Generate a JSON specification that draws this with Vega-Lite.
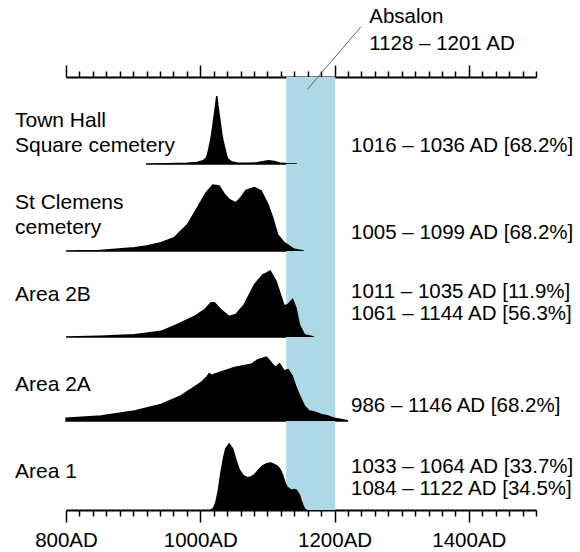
{
  "$schema": "https://vega.github.io/schema/vega-lite/v6.json",
  "padding": {"left": 14, "top": 7, "right": 0, "bottom": 0},
  "background": "white",
  "bounds": "flush",
  "spacing": 0,
  "config": {
    "view": {"stroke": null},
    "font": "Liberation Sans",
    "axis": {"grid": false, "domainColor": "black", "tickColor": "black", "labelColor": "black", "labelFont": "Liberation Sans", "labelFontSize": 20.5, "domainWidth": 2, "tickWidth": 1.5}
  },
  "datasets": {
    "event": [{"name": "Absalon", "start": 1128, "end": 1201, "label": "Absalon\n1128 – 1201 AD"}],
    "groups": [
      {"group": "Town Hall Square cemetery", "label": "Town Hall\nSquare cemetery", "range": "1016 – 1036 AD [68.2%]"},
      {"group": "St Clemens cemetery", "label": "St Clemens\ncemetery", "range": "1005 – 1099 AD [68.2%]"},
      {"group": "Area 2B", "label": "Area 2B", "range": "1011 – 1035 AD [11.9%]\n1061 – 1144 AD [56.3%]"},
      {"group": "Area 2A", "label": "Area 2A", "range": "986 – 1146 AD [68.2%]"},
      {"group": "Area 1", "label": "Area 1", "range": "1033 – 1064 AD [33.7%]\n1084 – 1122 AD [34.5%]"}
    ],
    "density": [
      {"group": "Town Hall Square cemetery", "year": 919, "p": 0},
      {"group": "Town Hall Square cemetery", "year": 950, "p": 0.005},
      {"group": "Town Hall Square cemetery", "year": 980, "p": 0.012},
      {"group": "Town Hall Square cemetery", "year": 995, "p": 0.023},
      {"group": "Town Hall Square cemetery", "year": 1003, "p": 0.045},
      {"group": "Town Hall Square cemetery", "year": 1008, "p": 0.076},
      {"group": "Town Hall Square cemetery", "year": 1010.5, "p": 0.13},
      {"group": "Town Hall Square cemetery", "year": 1013, "p": 0.24},
      {"group": "Town Hall Square cemetery", "year": 1015, "p": 0.34},
      {"group": "Town Hall Square cemetery", "year": 1017, "p": 0.45},
      {"group": "Town Hall Square cemetery", "year": 1019, "p": 0.6},
      {"group": "Town Hall Square cemetery", "year": 1021, "p": 0.75},
      {"group": "Town Hall Square cemetery", "year": 1023, "p": 0.9},
      {"group": "Town Hall Square cemetery", "year": 1024.5, "p": 1.03},
      {"group": "Town Hall Square cemetery", "year": 1026, "p": 0.9},
      {"group": "Town Hall Square cemetery", "year": 1028, "p": 0.75},
      {"group": "Town Hall Square cemetery", "year": 1030, "p": 0.6},
      {"group": "Town Hall Square cemetery", "year": 1032, "p": 0.45},
      {"group": "Town Hall Square cemetery", "year": 1034, "p": 0.34},
      {"group": "Town Hall Square cemetery", "year": 1036.5, "p": 0.24},
      {"group": "Town Hall Square cemetery", "year": 1039, "p": 0.13},
      {"group": "Town Hall Square cemetery", "year": 1041, "p": 0.076},
      {"group": "Town Hall Square cemetery", "year": 1047, "p": 0.03},
      {"group": "Town Hall Square cemetery", "year": 1055, "p": 0.015},
      {"group": "Town Hall Square cemetery", "year": 1070, "p": 0.01},
      {"group": "Town Hall Square cemetery", "year": 1085, "p": 0.018},
      {"group": "Town Hall Square cemetery", "year": 1095, "p": 0.038},
      {"group": "Town Hall Square cemetery", "year": 1102, "p": 0.05},
      {"group": "Town Hall Square cemetery", "year": 1110, "p": 0.038},
      {"group": "Town Hall Square cemetery", "year": 1118, "p": 0.015},
      {"group": "Town Hall Square cemetery", "year": 1130, "p": 0.005},
      {"group": "Town Hall Square cemetery", "year": 1144, "p": 0},

      {"group": "St Clemens cemetery", "year": 800, "p": 0},
      {"group": "St Clemens cemetery", "year": 850, "p": 0.006},
      {"group": "St Clemens cemetery", "year": 902, "p": 0.05},
      {"group": "St Clemens cemetery", "year": 920, "p": 0.076},
      {"group": "St Clemens cemetery", "year": 941.5, "p": 0.126},
      {"group": "St Clemens cemetery", "year": 961, "p": 0.2},
      {"group": "St Clemens cemetery", "year": 981, "p": 0.4},
      {"group": "St Clemens cemetery", "year": 996, "p": 0.66},
      {"group": "St Clemens cemetery", "year": 1008.5, "p": 0.88},
      {"group": "St Clemens cemetery", "year": 1018.5, "p": 1.0},
      {"group": "St Clemens cemetery", "year": 1028, "p": 0.985},
      {"group": "St Clemens cemetery", "year": 1036, "p": 0.86},
      {"group": "St Clemens cemetery", "year": 1043, "p": 0.78},
      {"group": "St Clemens cemetery", "year": 1053, "p": 0.73},
      {"group": "St Clemens cemetery", "year": 1060.5, "p": 0.81},
      {"group": "St Clemens cemetery", "year": 1068, "p": 0.92},
      {"group": "St Clemens cemetery", "year": 1080.5, "p": 0.96},
      {"group": "St Clemens cemetery", "year": 1090.5, "p": 0.91},
      {"group": "St Clemens cemetery", "year": 1100.5, "p": 0.71},
      {"group": "St Clemens cemetery", "year": 1108, "p": 0.5},
      {"group": "St Clemens cemetery", "year": 1115, "p": 0.25},
      {"group": "St Clemens cemetery", "year": 1125, "p": 0.126},
      {"group": "St Clemens cemetery", "year": 1140, "p": 0.026},
      {"group": "St Clemens cemetery", "year": 1154, "p": 0},

      {"group": "Area 2B", "year": 800, "p": 0},
      {"group": "Area 2B", "year": 850, "p": 0.012},
      {"group": "Area 2B", "year": 902, "p": 0.035},
      {"group": "Area 2B", "year": 941.5, "p": 0.086},
      {"group": "Area 2B", "year": 966, "p": 0.19},
      {"group": "Area 2B", "year": 991, "p": 0.31},
      {"group": "Area 2B", "year": 1006, "p": 0.41},
      {"group": "Area 2B", "year": 1016, "p": 0.52},
      {"group": "Area 2B", "year": 1021, "p": 0.52},
      {"group": "Area 2B", "year": 1031, "p": 0.41},
      {"group": "Area 2B", "year": 1043, "p": 0.31},
      {"group": "Area 2B", "year": 1053, "p": 0.34},
      {"group": "Area 2B", "year": 1065.5, "p": 0.49},
      {"group": "Area 2B", "year": 1080.5, "p": 0.79},
      {"group": "Area 2B", "year": 1093, "p": 0.94},
      {"group": "Area 2B", "year": 1099, "p": 0.97},
      {"group": "Area 2B", "year": 1104, "p": 1.0},
      {"group": "Area 2B", "year": 1113, "p": 0.84},
      {"group": "Area 2B", "year": 1120, "p": 0.62},
      {"group": "Area 2B", "year": 1125, "p": 0.47},
      {"group": "Area 2B", "year": 1130, "p": 0.49},
      {"group": "Area 2B", "year": 1137.5, "p": 0.57},
      {"group": "Area 2B", "year": 1142.5, "p": 0.44},
      {"group": "Area 2B", "year": 1147.5, "p": 0.19},
      {"group": "Area 2B", "year": 1155, "p": 0.035},
      {"group": "Area 2B", "year": 1169, "p": 0},

      {"group": "Area 2A", "year": 800, "p": 0.04},
      {"group": "Area 2A", "year": 852, "p": 0.076},
      {"group": "Area 2A", "year": 902, "p": 0.15},
      {"group": "Area 2A", "year": 941.5, "p": 0.25},
      {"group": "Area 2A", "year": 971, "p": 0.38},
      {"group": "Area 2A", "year": 1001, "p": 0.58},
      {"group": "Area 2A", "year": 1010, "p": 0.67},
      {"group": "Area 2A", "year": 1013.5, "p": 0.72},
      {"group": "Area 2A", "year": 1017, "p": 0.69},
      {"group": "Area 2A", "year": 1021, "p": 0.71},
      {"group": "Area 2A", "year": 1051, "p": 0.81},
      {"group": "Area 2A", "year": 1076, "p": 0.86},
      {"group": "Area 2A", "year": 1086, "p": 0.93},
      {"group": "Area 2A", "year": 1098.5, "p": 0.97},
      {"group": "Area 2A", "year": 1106, "p": 0.88},
      {"group": "Area 2A", "year": 1112, "p": 0.81},
      {"group": "Area 2A", "year": 1118, "p": 0.87},
      {"group": "Area 2A", "year": 1125, "p": 0.76},
      {"group": "Area 2A", "year": 1131, "p": 0.78},
      {"group": "Area 2A", "year": 1137, "p": 0.68},
      {"group": "Area 2A", "year": 1142, "p": 0.53},
      {"group": "Area 2A", "year": 1148, "p": 0.38},
      {"group": "Area 2A", "year": 1155, "p": 0.23},
      {"group": "Area 2A", "year": 1162, "p": 0.15},
      {"group": "Area 2A", "year": 1170, "p": 0.136},
      {"group": "Area 2A", "year": 1180, "p": 0.1},
      {"group": "Area 2A", "year": 1190, "p": 0.076},
      {"group": "Area 2A", "year": 1200, "p": 0.04},
      {"group": "Area 2A", "year": 1210, "p": 0.023},
      {"group": "Area 2A", "year": 1220, "p": 0},

      {"group": "Area 1", "year": 1016, "p": 0},
      {"group": "Area 1", "year": 1020, "p": 0.03},
      {"group": "Area 1", "year": 1023.5, "p": 0.126},
      {"group": "Area 1", "year": 1027, "p": 0.3},
      {"group": "Area 1", "year": 1031, "p": 0.58},
      {"group": "Area 1", "year": 1035, "p": 0.8},
      {"group": "Area 1", "year": 1038, "p": 0.93},
      {"group": "Area 1", "year": 1043, "p": 1.0},
      {"group": "Area 1", "year": 1048, "p": 0.93},
      {"group": "Area 1", "year": 1053, "p": 0.76},
      {"group": "Area 1", "year": 1058, "p": 0.61},
      {"group": "Area 1", "year": 1064, "p": 0.52},
      {"group": "Area 1", "year": 1070.5, "p": 0.49},
      {"group": "Area 1", "year": 1075, "p": 0.5},
      {"group": "Area 1", "year": 1080.5, "p": 0.53},
      {"group": "Area 1", "year": 1087, "p": 0.61},
      {"group": "Area 1", "year": 1093, "p": 0.67},
      {"group": "Area 1", "year": 1099, "p": 0.7},
      {"group": "Area 1", "year": 1105, "p": 0.71},
      {"group": "Area 1", "year": 1110, "p": 0.69},
      {"group": "Area 1", "year": 1115, "p": 0.66},
      {"group": "Area 1", "year": 1119, "p": 0.61},
      {"group": "Area 1", "year": 1122.5, "p": 0.53},
      {"group": "Area 1", "year": 1126, "p": 0.42},
      {"group": "Area 1", "year": 1129, "p": 0.35},
      {"group": "Area 1", "year": 1135, "p": 0.3},
      {"group": "Area 1", "year": 1140, "p": 0.31},
      {"group": "Area 1", "year": 1143, "p": 0.3},
      {"group": "Area 1", "year": 1147.5, "p": 0.23},
      {"group": "Area 1", "year": 1150, "p": 0.15},
      {"group": "Area 1", "year": 1152.5, "p": 0.076},
      {"group": "Area 1", "year": 1155, "p": 0.023},
      {"group": "Area 1", "year": 1157.5, "p": 0}
    ]
  },
  "vconcat": [
    {
      "width": 470, "height": 87,
      "layer": [
        {"data": {"name": "event"}, "mark": {"type": "rect", "color": "#add8e6"},
         "encoding": {
           "x": {"field": "start", "type": "quantitative", "scale": {"domain": [800, 1500], "nice": false, "zero": false},
                 "axis": {"orient": "top", "title": null, "labels": false, "tickCount": 60, "values": [800,820,840,860,880,900,920,940,960,980,1000,1020,1040,1060,1080,1100,1120,1140,1160,1180,1200,1220,1240,1260,1280,1300,1320,1340,1360,1380,1400,1420,1440,1460,1480,1500],
                          "tickSize": {"condition": {"test": "datum.value % 200 === 0", "value": 12}, "value": 6}}},
           "x2": {"field": "end"}}},
        {"data": {"name": "density"}, "transform": [{"filter": "datum.group === 'Town Hall Square cemetery'"}],
         "mark": {"type": "area", "color": "black", "stroke": "black", "strokeWidth": 1.5},
         "encoding": {
           "x": {"field": "year", "type": "quantitative", "scale": {"domain": [800, 1500], "nice": false, "zero": false}, "axis": {"orient": "top", "title": null}},
           "y": {"field": "p", "type": "quantitative", "scale": {"domain": [0, 1.318], "nice": false, "zero": false}, "axis": null}}},
        {"data": {"name": "groups"}, "transform": [{"filter": "datum.group === 'Town Hall Square cemetery'"}],
         "mark": {"type": "text", "align": "left", "baseline": "alphabetic", "fontSize": 21, "lineHeight": 25, "lineBreak": "\n", "color": "black"},
         "encoding": {
           "x": {"datum": 724, "type": "quantitative", "axis": {"orient": "top", "title": null}},
           "y": {"datum": 0.555, "type": "quantitative", "axis": null},
           "text": {"field": "label"}}},
        {"data": {"name": "groups"}, "transform": [{"filter": "datum.group === 'Town Hall Square cemetery'"}],
         "mark": {"type": "text", "align": "left", "baseline": "alphabetic", "fontSize": 20.5, "lineHeight": 22, "lineBreak": "\n", "color": "black"},
         "encoding": {
           "x": {"datum": 1224.5, "type": "quantitative", "axis": {"orient": "top", "title": null}},
           "y": {"datum": 0.186, "type": "quantitative", "axis": null},
           "text": {"field": "range"}}},
        {"data": {"name": "event"},
         "mark": {"type": "text", "align": "left", "baseline": "alphabetic", "fontSize": 20.5, "lineHeight": 26.6, "lineBreak": "\n", "color": "black"},
         "encoding": {
           "x": {"datum": 1251.7, "type": "quantitative", "axis": {"orient": "top", "title": null}},
           "y": {"datum": 2.13, "type": "quantitative", "axis": null},
           "text": {"field": "label"}}},
        {"data": {"name": "event"},
         "mark": {"type": "rule", "color": "#444444", "strokeWidth": 0.8},
         "encoding": {
           "x": {"datum": 1160, "type": "quantitative", "axis": {"orient": "top", "title": null}},
           "x2": {"datum": 1239.4},
           "y": {"datum": 1.136, "type": "quantitative", "axis": null},
           "y2": {"datum": 2.08}}}
      ]
    },
    {
      "width": 470, "height": 87,
      "layer": [
        {"data": {"name": "event"}, "mark": {"type": "rect", "color": "#add8e6"},
         "encoding": {
           "x": {"field": "start", "type": "quantitative", "scale": {"domain": [800, 1500], "nice": false, "zero": false}, "axis": null},
           "x2": {"field": "end"}}},
        {"data": {"name": "density"}, "transform": [{"filter": "datum.group === 'St Clemens cemetery'"}],
         "mark": {"type": "area", "color": "black", "stroke": "black", "strokeWidth": 1.5},
         "encoding": {
           "x": {"field": "year", "type": "quantitative", "scale": {"domain": [800, 1500], "nice": false, "zero": false}, "axis": null},
           "y": {"field": "p", "type": "quantitative", "scale": {"domain": [0, 1.318], "nice": false, "zero": false}, "axis": null}}},
        {"data": {"name": "groups"}, "transform": [{"filter": "datum.group === 'St Clemens cemetery'"}],
         "mark": {"type": "text", "align": "left", "baseline": "alphabetic", "fontSize": 21, "lineHeight": 25, "lineBreak": "\n", "color": "black"},
         "encoding": {
           "x": {"datum": 724, "type": "quantitative", "axis": null},
           "y": {"datum": 0.632, "type": "quantitative", "axis": null},
           "text": {"field": "label"}}},
        {"data": {"name": "groups"}, "transform": [{"filter": "datum.group === 'St Clemens cemetery'"}],
         "mark": {"type": "text", "align": "left", "baseline": "alphabetic", "fontSize": 20.5, "lineHeight": 22, "lineBreak": "\n", "color": "black"},
         "encoding": {
           "x": {"datum": 1224.5, "type": "quantitative", "axis": null},
           "y": {"datum": 0.182, "type": "quantitative", "axis": null},
           "text": {"field": "range"}}}
      ]
    },
    {
      "width": 470, "height": 86,
      "layer": [
        {"data": {"name": "event"}, "mark": {"type": "rect", "color": "#add8e6"},
         "encoding": {
           "x": {"field": "start", "type": "quantitative", "scale": {"domain": [800, 1500], "nice": false, "zero": false}, "axis": null},
           "x2": {"field": "end"}}},
        {"data": {"name": "density"}, "transform": [{"filter": "datum.group === 'Area 2B'"}],
         "mark": {"type": "area", "color": "black", "stroke": "black", "strokeWidth": 1.5},
         "encoding": {
           "x": {"field": "year", "type": "quantitative", "scale": {"domain": [800, 1500], "nice": false, "zero": false}, "axis": null},
           "y": {"field": "p", "type": "quantitative", "scale": {"domain": [0, 1.303], "nice": false, "zero": false}, "axis": null}}},
        {"data": {"name": "groups"}, "transform": [{"filter": "datum.group === 'Area 2B'"}],
         "mark": {"type": "text", "align": "left", "baseline": "alphabetic", "fontSize": 21, "lineHeight": 25, "lineBreak": "\n", "color": "black"},
         "encoding": {
           "x": {"datum": 724, "type": "quantitative", "axis": null},
           "y": {"datum": 0.545, "type": "quantitative", "axis": null},
           "text": {"field": "label"}}},
        {"data": {"name": "groups"}, "transform": [{"filter": "datum.group === 'Area 2B'"}],
         "mark": {"type": "text", "align": "left", "baseline": "alphabetic", "fontSize": 20.5, "lineHeight": 22, "lineBreak": "\n", "color": "black"},
         "encoding": {
           "x": {"datum": 1224.5, "type": "quantitative", "axis": null},
           "y": {"datum": 0.591, "type": "quantitative", "axis": null},
           "text": {"field": "range"}}}
      ]
    },
    {
      "width": 470, "height": 84,
      "layer": [
        {"data": {"name": "event"}, "mark": {"type": "rect", "color": "#add8e6"},
         "encoding": {
           "x": {"field": "start", "type": "quantitative", "scale": {"domain": [800, 1500], "nice": false, "zero": false}, "axis": null},
           "x2": {"field": "end"}}},
        {"data": {"name": "density"}, "transform": [{"filter": "datum.group === 'Area 2A'"}],
         "mark": {"type": "area", "color": "black", "stroke": "black", "strokeWidth": 1.5},
         "encoding": {
           "x": {"field": "year", "type": "quantitative", "scale": {"domain": [800, 1500], "nice": false, "zero": false}, "axis": null},
           "y": {"field": "p", "type": "quantitative", "scale": {"domain": [0, 1.273], "nice": false, "zero": false}, "axis": null}}},
        {"data": {"name": "groups"}, "transform": [{"filter": "datum.group === 'Area 2A'"}],
         "mark": {"type": "text", "align": "left", "baseline": "alphabetic", "fontSize": 21, "lineHeight": 25, "lineBreak": "\n", "color": "black"},
         "encoding": {
           "x": {"datum": 724, "type": "quantitative", "axis": null},
           "y": {"datum": 0.455, "type": "quantitative", "axis": null},
           "text": {"field": "label"}}},
        {"data": {"name": "groups"}, "transform": [{"filter": "datum.group === 'Area 2A'"}],
         "mark": {"type": "text", "align": "left", "baseline": "alphabetic", "fontSize": 20.5, "lineHeight": 22, "lineBreak": "\n", "color": "black"},
         "encoding": {
           "x": {"datum": 1224.5, "type": "quantitative", "axis": null},
           "y": {"datum": 0.136, "type": "quantitative", "axis": null},
           "text": {"field": "range"}}}
      ]
    },
    {
      "width": 470, "height": 89,
      "layer": [
        {"data": {"name": "event"}, "mark": {"type": "rect", "color": "#add8e6"},
         "encoding": {
           "x": {"field": "start", "type": "quantitative", "scale": {"domain": [800, 1500], "nice": false, "zero": false},
                 "axis": {"orient": "bottom", "title": null, "tickCount": 60, "values": [800,820,840,860,880,900,920,940,960,980,1000,1020,1040,1060,1080,1100,1120,1140,1160,1180,1200,1220,1240,1260,1280,1300,1320,1340,1360,1380,1400,1420,1440,1460,1480,1500],
                          "tickSize": {"condition": {"test": "datum.value % 200 === 0", "value": 12}, "value": 6},
                          "labelExpr": "datum.value % 200 === 0 ? datum.value + 'AD' : ''",
                          "labelOverlap": false, "labelFlush": false, "labelBound": false,
                          "labelBaseline": "alphabetic", "labelPadding": 24}},
           "x2": {"field": "end"}}},
        {"data": {"name": "density"}, "transform": [{"filter": "datum.group === 'Area 1'"}],
         "mark": {"type": "area", "color": "black", "stroke": "black", "strokeWidth": 1.5},
         "encoding": {
           "x": {"field": "year", "type": "quantitative", "scale": {"domain": [800, 1500], "nice": false, "zero": false}, "axis": {"orient": "bottom", "title": null}},
           "y": {"field": "p", "type": "quantitative", "scale": {"domain": [0, 1.348], "nice": false, "zero": false}, "axis": null}}},
        {"data": {"name": "groups"}, "transform": [{"filter": "datum.group === 'Area 1'"}],
         "mark": {"type": "text", "align": "left", "baseline": "alphabetic", "fontSize": 21, "lineHeight": 25, "lineBreak": "\n", "color": "black"},
         "encoding": {
           "x": {"datum": 724, "type": "quantitative", "axis": {"orient": "bottom", "title": null}},
           "y": {"datum": 0.49, "type": "quantitative", "axis": null},
           "text": {"field": "label"}}},
        {"data": {"name": "groups"}, "transform": [{"filter": "datum.group === 'Area 1'"}],
         "mark": {"type": "text", "align": "left", "baseline": "alphabetic", "fontSize": 20.5, "lineHeight": 22, "lineBreak": "\n", "color": "black"},
         "encoding": {
           "x": {"datum": 1224.5, "type": "quantitative", "axis": {"orient": "bottom", "title": null}},
           "y": {"datum": 0.561, "type": "quantitative", "axis": null},
           "text": {"field": "range"}}}
      ]
    }
  ]
}
